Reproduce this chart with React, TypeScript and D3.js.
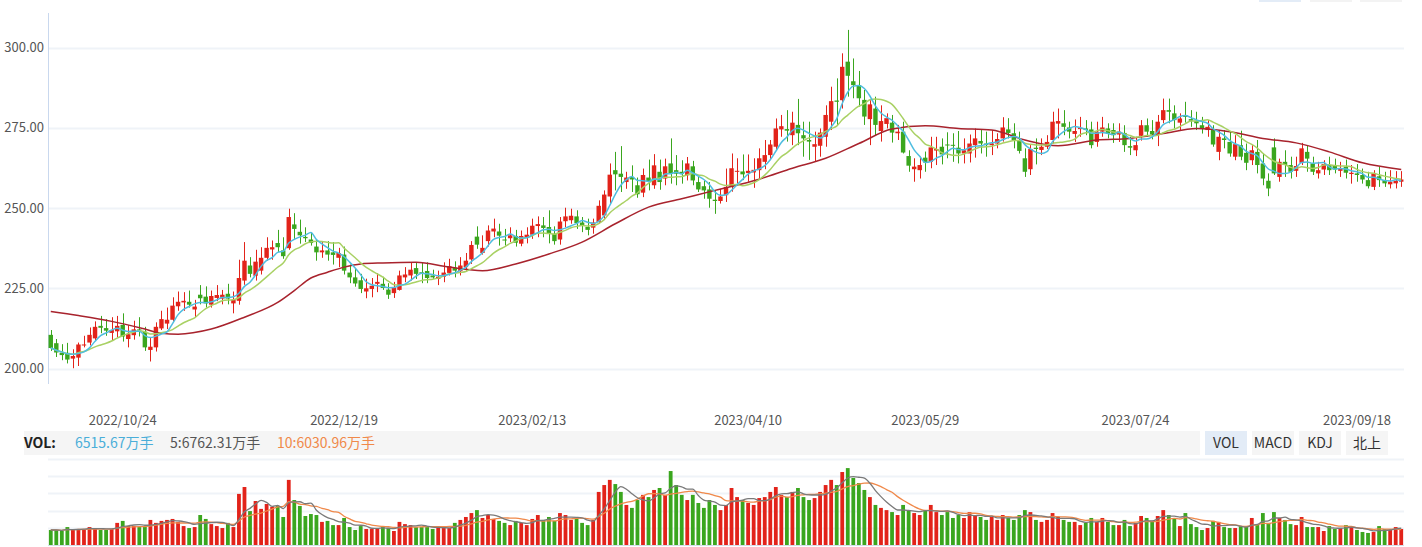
import React from 'react';
import * as d3 from 'd3';

const W = 1422;
const H = 547;

const opens = [210.5,207.9,204.9,204.9,203.1,203.4,207.2,208.1,209.4,213.3,212.6,211.1,211.6,213.6,209.2,210.4,212.2,211.5,205.8,206.6,212.5,214,215.2,219.4,220.6,220.8,218.4,223,222.4,219.9,222,221.8,223.3,220.3,221.1,227.4,232.1,228.9,230.5,234.5,237.1,239.1,236.8,237.5,244.9,242.6,241,240.2,238,236.2,236.8,236.2,234.5,235.5,229.9,228.4,227.5,224,224.8,226.4,226.4,224.6,223.5,224.5,228.4,229,231.3,230,230.4,229,227.9,228.6,229.8,231.4,230.3,231.6,234,241.1,236,239.7,242.7,242.7,240.2,240.6,241.3,238.9,240.9,241.7,244.4,244.6,244.1,242,240.2,245.9,246.2,247.4,245.5,244.1,243.9,245.6,247.7,253.6,261.8,260.7,258.1,259.7,257.1,254.8,259.5,257.1,261.3,259.2,263.9,261.8,261.3,260.2,263,258.1,256.8,255.8,252.6,252.2,254,256.6,261.4,261.4,260.9,261.1,261.8,264.4,266.5,269.1,274.5,274.6,272.7,275.9,272.7,271.2,269.1,269.4,272.2,276.9,283.5,283.6,295.6,289.5,288.3,283.7,277.7,281,274,276.2,276.6,273.3,273.8,266.2,262.1,261.8,265.7,264.4,267.9,269.1,269.8,269.7,268.8,267,267,269.6,270.9,270.1,269.6,270.1,271.7,274.5,273.3,271.2,265.5,262.1,268.8,268.1,269.1,271.2,276.3,276.4,275.1,273.1,274.6,274.8,274.5,270.6,273.8,274.8,274.3,272.9,273.4,269.3,268,272.5,275.8,274,272.7,277.4,280.5,279.5,276.6,278.9,277.7,277.2,275.8,274.3,274.3,267.5,271.7,270.6,266,269.6,267.2,264.9,267.5,263.9,258.5,268.9,259.7,264.4,263.4,261.6,264.1,267.5,263.9,260.8,262,263.4,263.1,261.6,262.9,260.6,260.8,260.3,258.7,256.6,259.9,258.7,257.4,257.7,258.2];
const highs = [212,209.2,207.6,208,206,208.1,210.2,212.8,214.7,216.4,215.4,216,216.4,217.2,213.5,214.9,216,213,209.7,214.4,218,219,222.2,224,223.8,224.3,221.4,226,225.6,224.3,226,224.5,226.4,224,233.9,239.4,234.7,237,237.8,240.9,239.9,243.2,240.9,249.8,248.4,246.4,244,242.5,240.1,239.4,239.7,239.4,237.6,238,232.4,231,229.5,228,228.2,229.7,228.6,226.6,227,230.5,231.6,233.1,233.1,233.1,233.1,230.8,230.5,233.1,234.2,233.4,234.7,236,239.7,244.3,241.5,244.6,246.7,245.1,243.5,244,243.2,243,244,246.7,247.4,247.2,249.3,244.3,247.2,250.1,249.8,249.3,247.2,246.7,246.7,252.4,255.5,263.9,267.5,269.3,261.3,263.3,259.5,262.3,265.1,266.8,265.1,265.4,271.7,266.5,264.9,265.9,264.7,259.9,258.6,258.1,255.5,256,262.3,267,265.5,266.7,266.7,265.5,268.6,271.2,271.2,277.9,279,280.5,280,284,276.9,276.9,273.8,274.8,282,287.8,290.4,298.2,305.5,296.6,292.7,286.8,283.6,284.7,282,279.5,279,275.9,276.9,268,265.5,266,267.6,272.2,272.2,271.7,273.6,273.3,274,271.7,272.9,274.8,274.3,273.8,274.3,273.3,278.3,278,276.4,273.8,268.6,269.6,271.7,271.7,272.7,280,281,280.5,276.9,277.6,278.4,277.4,276.9,276.9,278.4,276.4,276.4,276.4,275.8,272.2,272.2,277.4,277.9,277.4,279,284.1,284.1,282,279.5,283.1,280.5,280,278.4,277.4,275.8,274.3,274.3,273.8,272.7,274.1,270.1,269.6,271.2,267,260.8,271.7,265.4,268,266,266,270.3,269.6,266,264.4,264.9,266,265.4,264.4,265.1,263.4,263.7,262.3,261.3,261.8,262.8,261.3,261.8,261.5,261.5];
const lows = [205.5,203.6,202.6,201.6,200.1,200.8,206.6,207.2,208.6,211,210.2,208.9,209.7,208.4,206.6,209,210,205.5,202.2,205.3,212,212.3,214.7,218,218,219,216,220,219,219,221,220,220,217.2,219.9,226.1,228.4,227.4,229.3,233.6,233.9,236.3,234.2,237,240.4,238.9,239.4,238.3,233.6,234.5,233.6,232.4,231.6,229.3,226.6,225.5,223.5,221.9,222.2,223.8,224.5,221.7,222,224.3,226.9,227.4,227.9,226.6,226.6,227.9,226,226.9,229,228.4,229,230.5,232.6,237.3,235.5,238,240.9,238.3,238.3,239.4,238,238.1,239,240.4,240.9,240.9,239,238.6,238.6,244,245.1,243.5,242.5,241.5,242,245.1,246.7,251.4,255.5,255,256,255,253.2,253.4,255.5,256,255.7,257.1,257.6,257.1,257.6,258.6,257.1,255,252.9,250.1,248.2,251.4,251.9,255.1,257.7,258.7,258.2,256.3,259.2,262.1,265.3,268,272.2,270.7,269.6,269.6,266,265,264.4,266,269.1,274.3,275.9,281,284.7,284.2,281.6,275.9,269.6,272.7,270.7,274.8,270.4,271.2,267,261.3,258.2,259.2,261.3,262.4,263.4,263.6,265.5,264.4,263.9,263.9,264.2,265.7,267,266,266.5,268.6,270.7,271.7,268.6,267,259.7,260.3,263.6,266.5,268.4,270.1,271.7,272.7,271.7,270.6,272.2,272.7,268.6,269.1,272.2,271.7,270.3,270.6,267.5,266.5,266.2,271,272.2,271.4,269.3,276.4,276.4,274.8,274.3,276.6,275.3,274.3,273.2,272.2,269.1,264.9,268.6,266,264.9,264.9,261.8,263.4,260.8,257.1,253.7,260.3,258.2,259.7,259.2,259.7,263.4,261.3,260.3,259.2,260.3,260.3,260.8,259.7,259.2,257.6,258.2,257.6,256.1,255.6,256.6,256.6,256.1,256.1,256.6];
const closes = [206.4,205,204.2,202.8,203.9,207.5,207.5,210.5,213,212.7,211.8,212,213.3,210,210.7,212.2,211.9,206.6,206.8,213,215.4,215.2,219.6,220.8,221.1,219.9,219.3,221.9,220.3,222.6,222.9,223,221.8,221.4,228.2,233.6,229.5,233.3,234.5,237.6,237.8,237.8,235,247.2,243.5,241.5,240.6,239.1,236.2,236.8,235.5,235.4,236,230.5,228.4,226.5,224.8,225,225.8,227,225.1,223,225.2,229,229.3,230.8,229.5,229.7,228.2,228.4,228.6,229.9,231.9,230.5,232.1,233.6,238.5,238.6,237.6,243,243.6,241.4,240,241.5,239.2,241.3,241.7,244.5,245,243.8,242,239.7,245.8,247.4,247.6,245.3,244.5,243.2,245.5,250.7,254.2,260.4,260.5,259.7,259.5,258.9,254.3,260.3,258.4,263.3,258.1,263,260.7,260.7,260.7,263.9,258.6,255.8,255.5,252.9,252.2,253.6,256.6,262.4,261.6,260.5,261.6,261.9,265.5,266.5,269.8,274.8,275.5,274.1,276.6,273.3,271.7,270.7,269.9,273.5,279,283.3,283.1,294,291.2,288.3,284.2,278.5,282.3,275.9,277.1,278,273.5,273.8,267.3,263.2,262.9,263.4,264.2,268.9,268.4,266.7,269.6,269.5,267,268,270.1,271.7,270.1,269.6,270.1,271.5,275.1,273.4,271.2,267.8,261.3,268.4,268.4,269.1,270.6,276.9,277.1,275.3,273.8,274,275,274.3,269.6,273.8,275.1,273.2,272.7,273.8,269.6,268.8,269.6,275.8,273.8,272.9,276.9,280.5,280,277.4,277.9,278.4,277.2,276.4,274.8,275.3,269.8,272.2,271.2,267,269.9,266,264.1,268,263.4,259.2,256.1,260.8,264.4,263.4,261.3,263.1,268.6,265.4,261.3,261.8,263.7,261.8,262,262.3,261,261,260.3,258.9,256.8,260.8,258.7,257.7,258.2,258.5,258.9];

// 成交量（万手）
const volumes = [6100,6100,5700,7300,6100,6500,6500,7300,6900,6100,6100,6500,9000,9800,7700,7700,7300,7700,10200,9000,9800,10200,10600,9400,7700,6900,7300,12200,10600,8500,7700,6900,9000,7300,20800,23600,13800,17900,14700,16700,15500,15900,11400,26500,18300,15900,11800,12600,12200,9400,9800,8100,8100,11000,7300,6100,7700,6500,6500,6900,7300,6900,5700,9400,8500,8100,7300,7300,7300,6500,7300,6900,6900,9000,10200,11400,13000,14200,11000,12200,10600,9800,9000,8100,9800,9000,8100,10600,12200,10200,11400,9800,13000,12200,10200,11000,9000,8100,10200,21600,24400,26500,24800,21600,16300,15100,18300,20400,19500,22400,23200,20400,30100,24400,20400,18300,20400,17100,15100,18300,16300,14200,16300,23200,19500,18300,17100,16300,19100,19500,21600,23600,20400,19500,21600,23200,19500,18300,19100,21600,24400,26500,24400,29700,31300,27300,25200,22400,19500,16300,15100,14200,13400,12200,16300,14200,13000,12200,14200,16300,13400,12200,13400,11000,12200,11000,13400,12200,11400,10200,11400,10200,12200,11000,10200,12200,14200,13400,10200,9400,10200,13000,11400,10200,9400,9400,8100,9000,11000,9400,11000,9400,8100,8100,10200,7700,9000,11800,11000,9400,11800,14200,12200,11000,7700,13000,8500,7300,6100,6900,9800,9400,7300,6900,6900,7700,7700,11000,8500,13000,9000,13400,11000,10200,8500,8100,11400,7300,7300,7300,5700,7700,6500,6900,8100,7300,6100,5300,4900,5300,7700,6500,6100,7300,6515.67];

// 长期均线（读自图中的采样点）
const maLongIdx = [0,5,11,17,20,23,29,35,41,44,47,50,53,56,60,66,72,78,84,90,96,102,108,114,120,128,134,140,146,152,158,164,170,176,182,189,195,201,207,213,219,225,231,237,244];
const maLongVal = [217.8,216.5,214.7,212.3,211,210.7,212.3,216,220.6,224.3,228.2,230,231.6,232.6,232.9,233.1,231.6,230.5,232.6,235.7,239.4,245.1,250.3,252.9,255.5,259,262.4,265.5,270.1,274.6,275.6,274.8,274.3,271.2,269.4,271.2,271.7,273.2,274.8,273.8,271.7,270.3,267.5,264.1,262];

const yTicks = [200, 225, 250, 275, 300];
const xTickLabels = ['2022/10/24', '2022/12/19', '2023/02/13', '2023/04/10', '2023/05/29', '2023/07/24', '2023/09/18'];
const holidays = ['2022/10/03','2022/10/04','2022/10/05','2022/10/06','2022/10/07','2023/01/02','2023/01/23','2023/01/24','2023/01/25','2023/01/26','2023/01/27','2023/04/05','2023/05/01','2023/05/02','2023/05/03','2023/06/22','2023/06/23','2023/09/29'];
const startDate = '2022/09/28';

const volNow = '6515.67万手';
const volMa5 = '5:6762.31万手';
const volMa10 = '10:6030.96万手';
const indicatorTabs = ['VOL', 'MACD', 'KDJ', '北上'];

const RED = '#e2231a';
const GREEN = '#3aa61e';
const FONT = '"Noto Sans CJK SC", "Liberation Sans", Arial, sans-serif';

function fmt(d: Date) {
  const m = String(d.getMonth() + 1).padStart(2, '0');
  const dd = String(d.getDate()).padStart(2, '0');
  return `${d.getFullYear()}/${m}/${dd}`;
}

function tradingDates(n: number) {
  const out: string[] = [];
  const [y, m, d] = startDate.split('/').map(Number);
  const cur = new Date(y, m - 1, d);
  while (out.length < n) {
    const wd = cur.getDay();
    const s = fmt(cur);
    if (wd !== 0 && wd !== 6 && !holidays.includes(s)) out.push(s);
    cur.setDate(cur.getDate() + 1);
  }
  return out;
}

function movingAvg(arr: number[], k: number) {
  return arr.map((_, i) => {
    const s = Math.max(0, i - k + 1);
    return d3.mean(arr.slice(s, i + 1)) as number;
  });
}

export default function App() {
  const n = closes.length;
  const dates = tradingDates(n);
  const x = d3.scaleBand<number>().domain(d3.range(n)).range([48, 1404]).paddingInner(0.2).paddingOuter(0.1);
  const cx = (i: number) => (x(i) as number) + x.bandwidth() / 2;
  const y = d3.scaleLinear().domain([195.5, 310.7]).range([383, 13.2]);
  const yv = d3.scaleLinear().domain([0, 35000]).range([545, 459]);
  const volGrid = [7000, 14000, 21000, 28000, 35000];

  const ma5 = movingAvg(closes, 5);
  const ma10 = movingAvg(closes, 10);
  const vma5 = movingAvg(volumes, 5);
  const vma10 = movingAvg(volumes, 10);

  const priceLine = d3.line<number>().x((_, i) => cx(i)).y((v) => y(v)).curve(d3.curveMonotoneX);
  const longLine = d3.line<number>().x((_, k) => cx(maLongIdx[k])).y((v) => y(v)).curve(d3.curveMonotoneX);
  const volLine = d3.line<number>().x((_, i) => cx(i)).y((v) => yv(v)).curve(d3.curveMonotoneX);

  const bw = x.bandwidth();
  const vbw = 3.8;

  return (
    <div style={{ position: 'absolute', left: 0, top: 0, width: W, height: H, background: '#fff' }}>
      <svg width={W} height={H} style={{ display: 'block', fontFamily: FONT }}>
        {/* top-right tabs (cut off) */}
        <rect x={1259} y={0} width={42} height={2} fill="#e3ecf7" />
        <rect x={1310} y={0} width={42} height={2} fill="#f3f3f3" />
        <rect x={1360} y={0} width={42} height={2} fill="#f3f3f3" />

        {/* grid */}
        {yTicks.map((t) => (
          <g key={t}>
            <line x1={48} x2={1404} y1={Math.round(y(t)) + 0.5} y2={Math.round(y(t)) + 0.5} stroke="#eff3f8" strokeWidth={2} />
            <text x={44} y={y(t)} dy="0.35em" textAnchor="end" fontSize={13} fill="#555">{t.toFixed(2)}</text>
          </g>
        ))}
        <line x1={48.5} x2={48.5} y1={13} y2={384} stroke="#c9d8ee" strokeWidth={1} />

        {/* x labels */}
        {xTickLabels.map((l) => {
          const i = dates.indexOf(l);
          if (i < 0) return null;
          return (
            <text key={l} x={cx(i)} y={425} textAnchor="middle" fontSize={13} fill="#555">{l}</text>
          );
        })}

        {/* candles */}
        {closes.map((c, i) => {
          const o = opens[i];
          const up = c >= o;
          const col = up ? RED : GREEN;
          const hi = Math.max(highs[i], o, c);
          const lo = Math.min(lows[i], o, c);
          const top = y(Math.max(o, c));
          const bot = y(Math.min(o, c));
          const xc = Math.round(cx(i)) + 0.5;
          return (
            <g key={i}>
              <line x1={xc} x2={xc} y1={y(hi)} y2={y(lo)} stroke={col} strokeWidth={1} />
              <rect x={x(i)} y={top} width={bw} height={Math.max(1, bot - top)} fill={col} />
            </g>
          );
        })}

        {/* moving averages */}
        <path d={longLine(maLongVal) || ''} fill="none" stroke="#a8232d" strokeWidth={1.5} />
        <path d={priceLine(ma10) || ''} fill="none" stroke="#a9d164" strokeWidth={1.5} />
        <path d={priceLine(ma5) || ''} fill="none" stroke="#4fbde0" strokeWidth={1.5} />

        {/* VOL header */}
        <rect x={24} y={431} width={1176} height={24} fill="#f5f5f5" />
        <text x={24} y={448} fontSize={14} fontWeight="bold" fill="#222">VOL:</text>
        <text x={75} y={448} fontSize={14} fill="#4aaed9">{volNow}</text>
        <text x={170} y={448} fontSize={14} fill="#555">{volMa5}</text>
        <text x={277} y={448} fontSize={14} fill="#f0894a">{volMa10}</text>
        {indicatorTabs.map((t, k) => {
          const bx = 1205 + k * 47;
          return (
            <g key={t}>
              <rect x={bx} y={431} width={42} height={24} fill={k === 0 ? '#e3ecf7' : '#f5f5f5'} />
              <text x={bx + 21} y={448} textAnchor="middle" fontSize={14} fill="#333">{t}</text>
            </g>
          );
        })}

        {/* volume grid */}
        {volGrid.map((g) => (
          <line key={g} x1={48} x2={1404} y1={Math.round(yv(g)) + 0.5} y2={Math.round(yv(g)) + 0.5} stroke="#eff3f8" strokeWidth={2} />
        ))}

        {/* volume bars */}
        {volumes.map((v, i) => {
          const col = closes[i] >= opens[i] ? RED : GREEN;
          return <rect key={i} x={cx(i) - vbw / 2} y={yv(v)} width={vbw} height={yv(0) - yv(v)} fill={col} />;
        })}
        <line x1={48} x2={1404} y1={545.5} y2={545.5} stroke="#d5deea" strokeWidth={1} />

        <path d={volLine(vma10) || ''} fill="none" stroke="#f0894a" strokeWidth={1.3} />
        <path d={volLine(vma5) || ''} fill="none" stroke="#7a7a7a" strokeWidth={1.3} />
      </svg>
    </div>
  );
}
